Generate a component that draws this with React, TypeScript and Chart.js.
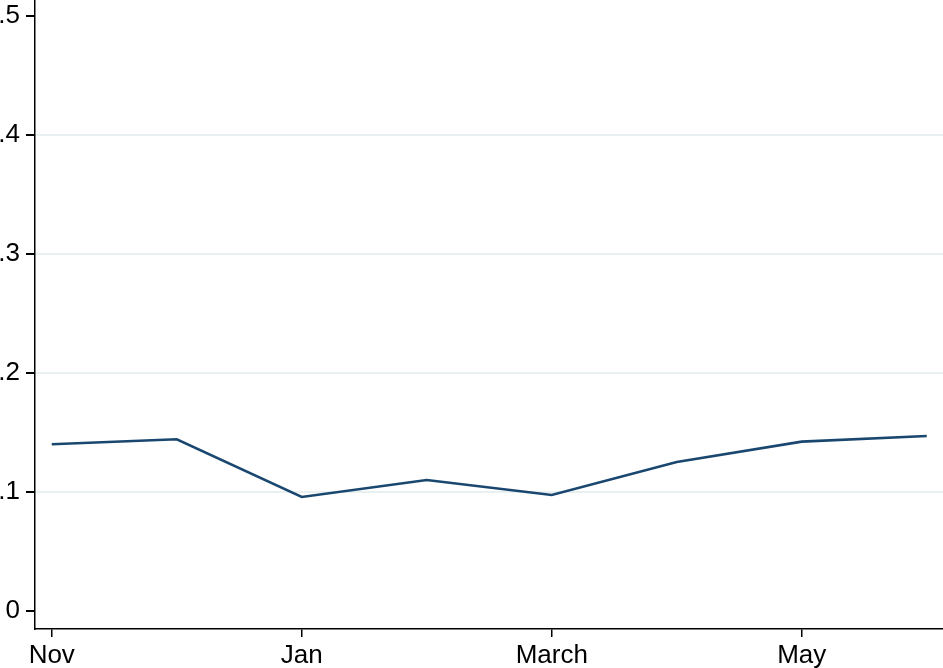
import React, { useEffect, useRef } from "react";
import { Chart, registerables } from "chart.js";

Chart.register(...registerables);

const months = ["Nov", "Dec", "Jan", "Feb", "March", "April", "May", "June"];
const values = [0.1401, 0.1443, 0.0958, 0.1101, 0.0975, 0.1252, 0.1423, 0.1471];
const xTickPositions = [0, 2, 4, 6];
const yTickValues = [0, 0.1, 0.2, 0.3, 0.4, 0.5];
const yTickLabels = ["0", ".1", ".2", ".3", ".4", ".5"];

const FONT = "'Liberation Sans', Arial, Helvetica, sans-serif";

export default function App() {
  const ref = useRef<HTMLCanvasElement | null>(null);

  useEffect(() => {
    if (!ref.current) return;
    const points = values.map((v, i) => ({ x: i, y: v }));
    const chart = new Chart(ref.current, {
      type: "line",
      data: {
        datasets: [
          {
            data: points,
            borderColor: "#1a476f",
            borderWidth: 2.6,
            pointRadius: 0,
            fill: false,
            tension: 0,
          },
        ],
      },
      options: {
        animation: false,
        responsive: false,
        layout: { padding: 0 },
        plugins: { legend: { display: false }, tooltip: { enabled: false } },
        scales: {
          x: {
            type: "linear",
            min: -0.134,
            max: 7.13,
            afterBuildTicks: (s: any) => {
              s.ticks = xTickPositions.map((v) => ({ value: v }));
            },
            afterFit: (s: any) => {
              s.height = 39;
              s.paddingLeft = 0;
              s.paddingRight = 0;
            },
            ticks: {
              autoSkip: false,
              maxRotation: 0,
              padding: 3,
              color: "#000",
              font: { family: FONT, size: 26 },
              callback: (v: any) => months[Number(v)] ?? "",
            },
            grid: {
              drawOnChartArea: false,
              drawTicks: true,
              tickLength: 8,
              tickColor: "#000",
              lineWidth: 1.5,
            },
            border: { color: "#000", width: 1.5 },
          },
          y: {
            type: "linear",
            min: -0.0151,
            max: 0.5134,
            afterBuildTicks: (s: any) => {
              s.ticks = yTickValues.map((v) => ({ value: v }));
            },
            afterFit: (s: any) => {
              s.width = 35;
              s.paddingTop = 0;
              s.paddingBottom = 0;
            },
            ticks: {
              autoSkip: false,
              padding: 6,
              color: "#000",
              font: { family: FONT, size: 26 },
              callback: (v: any) => {
                const idx = yTickValues.findIndex((t) => Math.abs(t - Number(v)) < 1e-9);
                return idx >= 0 ? yTickLabels[idx] : "";
              },
            },
            grid: {
              drawOnChartArea: true,
              tickLength: 9,
              tickColor: "#000",
              lineWidth: 2,
              color: (ctx: any) => {
                const v = ctx.tick ? ctx.tick.value : null;
                if (v === null || Math.abs(v) < 1e-9 || Math.abs(v - 0.5) < 1e-9) return "rgba(0,0,0,0)";
                return "#e8f0f2";
              },
            },
            border: { color: "#000", width: 1.5 },
          },
        },
      },
    });
    return () => chart.destroy();
  }, []);

  return (
    <canvas
      ref={ref}
      width={943}
      height={668}
      style={{ position: "fixed", top: 0, left: 0, width: 943, height: 668, display: "block", background: "#fff" }}
    />
  );
}
